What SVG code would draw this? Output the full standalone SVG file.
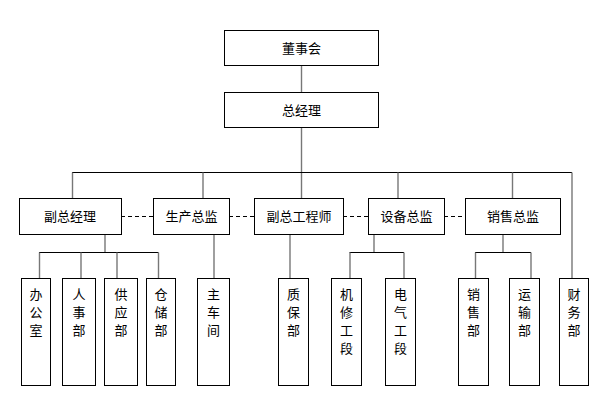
<svg xmlns="http://www.w3.org/2000/svg" width="609" height="414" viewBox="0 0 609 414">
<style>
.box{fill:#fff;stroke:#000;stroke-width:1}
.t{font-family:"Noto Sans CJK SC","Liberation Sans",sans-serif;font-size:13px;fill:#000;text-anchor:middle;dominant-baseline:central}
.v{stroke:#777;stroke-width:1.4;fill:none}
.h{stroke:#000;stroke-width:1;fill:none}
.d{stroke:#000;stroke-width:1;stroke-dasharray:4 3;fill:none}
</style>
<rect width="609" height="414" fill="#fff"/>
<g id="connectors">
<line class="v" x1="301.5" y1="65" x2="301.5" y2="92"/>
<line class="v" x1="301.5" y1="127" x2="301.5" y2="198"/>
<line class="h" x1="72" y1="172.5" x2="572" y2="172.5"/>
<line class="v" x1="72.5" y1="172.5" x2="72.5" y2="198"/>
<line class="v" x1="203" y1="172.5" x2="203" y2="198"/>
<line class="v" x1="398" y1="172.5" x2="398" y2="198"/>
<line class="v" x1="512.5" y1="172.5" x2="512.5" y2="198"/>
<line class="v" x1="572" y1="172.5" x2="572" y2="278"/>
<line class="d" x1="121" y1="216.5" x2="153" y2="216.5"/>
<line class="d" x1="229" y1="216.5" x2="254" y2="216.5"/>
<line class="d" x1="343" y1="216.5" x2="368" y2="216.5"/>
<line class="d" x1="444" y1="216.5" x2="465" y2="216.5"/>
<line class="v" x1="105" y1="234" x2="105" y2="252.5"/>
<line class="h" x1="39" y1="252.5" x2="158.5" y2="252.5"/>
<line class="v" x1="39.5" y1="252.5" x2="39.5" y2="278"/>
<line class="v" x1="81" y1="252.5" x2="81" y2="278"/>
<line class="v" x1="117" y1="252.5" x2="117" y2="278"/>
<line class="v" x1="158.5" y1="252.5" x2="158.5" y2="278"/>
<line class="v" x1="214" y1="234" x2="214" y2="278"/>
<line class="v" x1="290" y1="234" x2="290" y2="278"/>
<line class="v" x1="374" y1="234" x2="374" y2="252.5"/>
<line class="h" x1="349.5" y1="252.5" x2="404" y2="252.5"/>
<line class="v" x1="350" y1="252.5" x2="350" y2="278"/>
<line class="v" x1="404" y1="252.5" x2="404" y2="278"/>
<line class="v" x1="503" y1="234" x2="503" y2="252.5"/>
<line class="h" x1="475" y1="252.5" x2="531" y2="252.5"/>
<line class="v" x1="475.5" y1="252.5" x2="475.5" y2="278"/>
<line class="v" x1="531" y1="252.5" x2="531" y2="278"/>
</g>
<g id="n-board"><rect class="box" x="224.5" y="30.5" width="154" height="35"/><text class="t" x="301.5" y="47">董事会</text></g>
<g id="n-gm"><rect class="box" x="224.5" y="92.5" width="154" height="35"/><text class="t" x="301.5" y="109">总经理</text></g>
<g id="n-vgm"><rect class="box" x="19.5" y="198.5" width="102" height="36"/><text class="t" x="70" y="215">副总经理</text></g>
<g id="n-prod"><rect class="box" x="153.5" y="198.5" width="76" height="36"/><text class="t" x="191.5" y="215">生产总监</text></g>
<g id="n-vce"><rect class="box" x="254.5" y="198.5" width="89" height="36"/><text class="t" x="299" y="215">副总工程师</text></g>
<g id="n-equip"><rect class="box" x="368.5" y="198.5" width="76" height="36"/><text class="t" x="406.5" y="215">设备总监</text></g>
<g id="n-sales"><rect class="box" x="465.5" y="198.5" width="95" height="36"/><text class="t" x="513" y="215">销售总监</text></g>
<g id="n-office"><rect class="box" x="21.5" y="278.5" width="29" height="107"/><text class="t" x="36" y="293">办</text><text class="t" x="36" y="311.3">公</text><text class="t" x="36" y="329.6">室</text></g>
<g id="n-hr"><rect class="box" x="62.5" y="278.5" width="33" height="107"/><text class="t" x="79" y="293">人</text><text class="t" x="79" y="311.3">事</text><text class="t" x="79" y="329.6">部</text></g>
<g id="n-supply"><rect class="box" x="104.5" y="278.5" width="33" height="107"/><text class="t" x="121" y="293">供</text><text class="t" x="121" y="311.3">应</text><text class="t" x="121" y="329.6">部</text></g>
<g id="n-store"><rect class="box" x="146.5" y="278.5" width="29" height="107"/><text class="t" x="161" y="293">仓</text><text class="t" x="161" y="311.3">储</text><text class="t" x="161" y="329.6">部</text></g>
<g id="n-workshop"><rect class="box" x="197.5" y="278.5" width="32" height="107"/><text class="t" x="213.5" y="293">主</text><text class="t" x="213.5" y="311.3">车</text><text class="t" x="213.5" y="329.6">间</text></g>
<g id="n-qa"><rect class="box" x="278.5" y="278.5" width="30" height="107"/><text class="t" x="293.5" y="293">质</text><text class="t" x="293.5" y="311.3">保</text><text class="t" x="293.5" y="329.6">部</text></g>
<g id="n-mech"><rect class="box" x="331.5" y="278.5" width="30" height="107"/><text class="t" x="346.5" y="293">机</text><text class="t" x="346.5" y="311.3">修</text><text class="t" x="346.5" y="329.6">工</text><text class="t" x="346.5" y="347.9">段</text></g>
<g id="n-elec"><rect class="box" x="385.5" y="278.5" width="30" height="107"/><text class="t" x="400.5" y="293">电</text><text class="t" x="400.5" y="311.3">气</text><text class="t" x="400.5" y="329.6">工</text><text class="t" x="400.5" y="347.9">段</text></g>
<g id="n-salesdept"><rect class="box" x="458.5" y="278.5" width="30" height="107"/><text class="t" x="473.5" y="293">销</text><text class="t" x="473.5" y="311.3">售</text><text class="t" x="473.5" y="329.6">部</text></g>
<g id="n-transport"><rect class="box" x="509.5" y="278.5" width="30" height="107"/><text class="t" x="524.5" y="293">运</text><text class="t" x="524.5" y="311.3">输</text><text class="t" x="524.5" y="329.6">部</text></g>
<g id="n-finance"><rect class="box" x="559.5" y="278.5" width="29" height="107"/><text class="t" x="574" y="293">财</text><text class="t" x="574" y="311.3">务</text><text class="t" x="574" y="329.6">部</text></g>
</svg>
